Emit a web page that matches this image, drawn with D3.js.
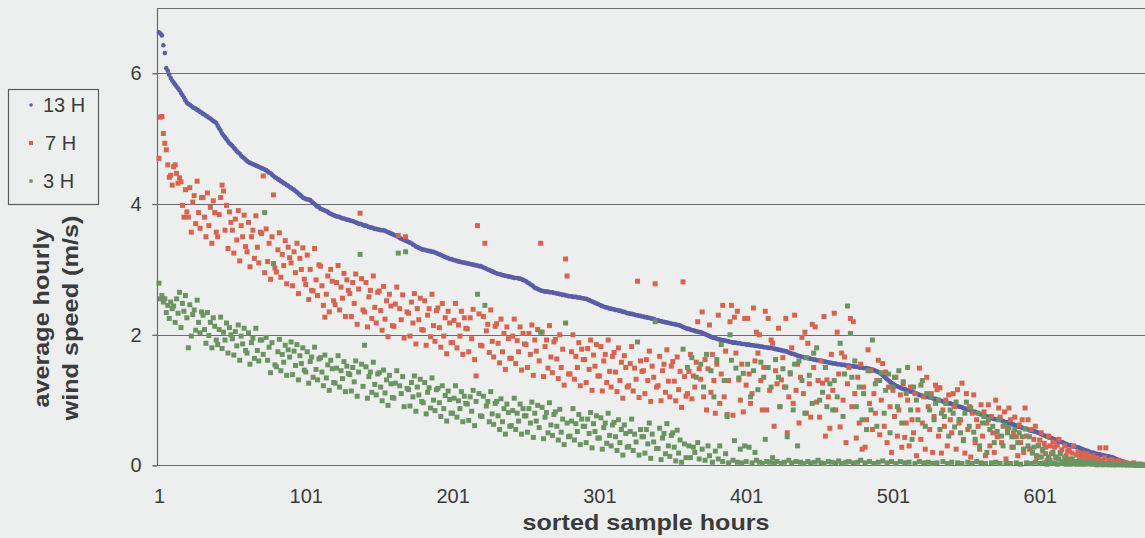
<!DOCTYPE html>
<html>
<head>
<meta charset="utf-8">
<script src="https://cdn.jsdelivr.net/npm/d3@7"></script>
<style>
  html, body { margin: 0; padding: 0; background: #edefee; }
  svg { display: block; }
  text { font-family: "Liberation Sans", Arial, sans-serif; fill: #3b3b3d; }
</style>
</head>
<body>
<svg id="chart" width="1145" height="538"></svg>
<script>
// Average hourly wind speed, hours sorted by the 13 H series
const seriesNames = ["13 H", "7 H", "3 H"];
const xTickValues = [1, 101, 201, 301, 401, 501, 601];
const yTickValues = [0, 2, 4, 6];

const speed13H = [
6.63,6.61,6.58,6.43,6.31,6.08,6.04,5.98,5.93,5.89,
5.86,5.83,5.80,5.77,5.74,5.70,5.67,5.63,5.59,5.55,
5.53,5.52,5.50,5.48,5.47,5.46,5.44,5.43,5.41,5.40,
5.38,5.37,5.35,5.34,5.32,5.31,5.29,5.27,5.26,5.24,
5.20,5.16,5.12,5.08,5.05,5.02,4.99,4.96,4.93,4.91,
4.89,4.86,4.84,4.81,4.79,4.77,4.74,4.72,4.70,4.68,
4.66,4.64,4.63,4.62,4.61,4.60,4.59,4.58,4.57,4.56,
4.55,4.54,4.53,4.52,4.50,4.48,4.47,4.45,4.43,4.41,
4.40,4.38,4.37,4.35,4.34,4.32,4.31,4.29,4.28,4.26,
4.25,4.23,4.22,4.20,4.18,4.16,4.14,4.12,4.10,4.09,
4.08,4.07,4.07,4.06,4.04,4.02,4.00,3.98,3.96,3.95,
3.93,3.92,3.91,3.90,3.89,3.88,3.86,3.85,3.84,3.83,
3.82,3.81,3.81,3.80,3.79,3.78,3.78,3.77,3.76,3.76,
3.75,3.74,3.74,3.73,3.72,3.71,3.70,3.70,3.69,3.68,
3.67,3.67,3.66,3.65,3.64,3.64,3.63,3.62,3.62,3.61,
3.61,3.60,3.60,3.60,3.59,3.58,3.57,3.56,3.55,3.54,
3.53,3.52,3.51,3.50,3.48,3.47,3.46,3.45,3.44,3.43,
3.42,3.41,3.40,3.38,3.37,3.35,3.34,3.33,3.32,3.31,
3.30,3.30,3.29,3.29,3.28,3.28,3.27,3.27,3.26,3.25,
3.24,3.23,3.22,3.21,3.20,3.19,3.18,3.17,3.16,3.16,
3.15,3.14,3.14,3.13,3.12,3.12,3.11,3.11,3.10,3.10,
3.09,3.09,3.08,3.08,3.07,3.07,3.06,3.06,3.05,3.05,
3.04,3.03,3.02,3.01,3.00,2.99,2.98,2.97,2.96,2.95,
2.94,2.93,2.93,2.92,2.91,2.91,2.90,2.90,2.89,2.89,
2.88,2.88,2.87,2.87,2.87,2.86,2.86,2.85,2.84,2.83,
2.82,2.80,2.79,2.77,2.76,2.74,2.72,2.71,2.70,2.69,
2.68,2.67,2.67,2.66,2.66,2.66,2.65,2.65,2.65,2.64,
2.64,2.63,2.63,2.62,2.62,2.61,2.61,2.60,2.60,2.59,
2.59,2.59,2.58,2.58,2.58,2.57,2.57,2.57,2.56,2.56,
2.55,2.55,2.54,2.53,2.52,2.51,2.50,2.49,2.48,2.47,
2.46,2.45,2.44,2.43,2.42,2.42,2.41,2.40,2.40,2.39,
2.39,2.38,2.38,2.37,2.37,2.36,2.35,2.35,2.34,2.33,
2.33,2.32,2.32,2.31,2.31,2.30,2.30,2.29,2.29,2.28,
2.28,2.27,2.27,2.26,2.26,2.25,2.25,2.24,2.23,2.22,
2.22,2.21,2.21,2.20,2.20,2.19,2.19,2.18,2.18,2.17,
2.17,2.16,2.16,2.15,2.15,2.14,2.13,2.12,2.11,2.10,
2.09,2.09,2.08,2.07,2.07,2.06,2.05,2.05,2.04,2.04,
2.03,2.02,2.01,2.00,1.99,1.98,1.97,1.96,1.95,1.95,
1.94,1.93,1.93,1.92,1.92,1.91,1.91,1.90,1.90,1.89,
1.89,1.88,1.88,1.88,1.87,1.87,1.87,1.86,1.86,1.86,
1.85,1.85,1.85,1.84,1.84,1.84,1.83,1.83,1.83,1.82,
1.82,1.82,1.81,1.81,1.81,1.80,1.80,1.80,1.79,1.79,
1.78,1.78,1.77,1.77,1.76,1.76,1.75,1.75,1.74,1.73,
1.72,1.71,1.71,1.70,1.69,1.68,1.68,1.67,1.66,1.66,
1.65,1.65,1.64,1.64,1.63,1.63,1.62,1.62,1.61,1.61,
1.61,1.60,1.60,1.59,1.59,1.58,1.58,1.57,1.57,1.56,
1.56,1.56,1.55,1.55,1.55,1.54,1.54,1.54,1.53,1.53,
1.53,1.52,1.52,1.52,1.51,1.51,1.51,1.50,1.50,1.50,
1.49,1.49,1.49,1.48,1.48,1.47,1.47,1.46,1.45,1.44,
1.43,1.42,1.40,1.38,1.36,1.34,1.32,1.30,1.28,1.26,
1.25,1.23,1.22,1.21,1.20,1.19,1.18,1.17,1.17,1.16,
1.15,1.14,1.13,1.13,1.12,1.11,1.10,1.09,1.08,1.07,
1.07,1.06,1.05,1.05,1.05,1.04,1.04,1.03,1.02,1.02,
1.01,1.00,0.99,0.99,0.98,0.97,0.96,0.96,0.95,0.95,
0.94,0.93,0.93,0.92,0.91,0.90,0.90,0.89,0.88,0.87,
0.86,0.86,0.85,0.84,0.83,0.82,0.82,0.81,0.80,0.79,
0.78,0.78,0.77,0.76,0.75,0.74,0.74,0.73,0.72,0.71,
0.71,0.70,0.70,0.70,0.69,0.68,0.67,0.66,0.66,0.65,
0.64,0.63,0.63,0.62,0.61,0.60,0.59,0.59,0.58,0.57,
0.56,0.56,0.55,0.54,0.53,0.53,0.52,0.52,0.51,0.50,
0.49,0.48,0.47,0.46,0.45,0.44,0.43,0.43,0.42,0.41,
0.40,0.39,0.38,0.37,0.36,0.36,0.35,0.34,0.33,0.32,
0.31,0.31,0.30,0.29,0.29,0.28,0.28,0.27,0.26,0.25,
0.24,0.23,0.23,0.22,0.21,0.20,0.20,0.19,0.18,0.18,
0.17,0.17,0.16,0.16,0.15,0.15,0.14,0.14,0.13,0.13,
0.12,0.11,0.10,0.09,0.08,0.07,0.06,0.06,0.05,0.04,
0.04,0.03,0.02,0.02,0.01,0.01,0.00,0.00,0.00,0.00,0.00,0.00
];

const speed7H = [
4.70,5.33,5.34,5.08,4.93,4.83,4.60,4.41,4.44,4.29,
4.57,4.60,4.47,4.32,4.40,4.34,3.98,3.80,4.22,3.88,
3.80,4.25,3.57,4.03,4.13,3.70,4.35,3.87,3.63,4.10,
4.10,3.80,3.50,4.17,3.67,3.95,3.40,4.05,3.87,3.57,
3.50,3.84,4.10,4.29,4.20,3.60,3.98,3.32,3.88,3.72,
3.60,3.25,3.77,3.45,3.90,3.13,3.67,3.50,3.83,3.35,
3.27,3.72,3.04,3.50,3.60,3.17,3.82,3.34,3.10,3.57,
3.55,4.43,2.95,3.62,3.12,3.40,2.85,3.50,4.14,3.02,
2.96,3.30,3.56,2.88,3.23,3.06,3.44,2.78,3.34,3.18,
3.10,2.75,3.27,2.95,3.40,2.63,3.17,3.00,3.33,2.85,
2.77,3.22,2.54,3.00,2.68,2.67,3.32,2.84,2.60,3.07,
3.05,2.75,2.45,2.27,2.62,2.90,2.35,3.00,2.82,2.52,
2.46,2.80,3.06,2.38,2.73,2.56,2.94,2.28,2.84,2.68,
2.63,2.28,2.80,2.48,2.93,2.16,2.70,3.86,2.86,2.38,
2.35,2.80,2.12,2.58,2.68,2.25,2.90,2.42,2.18,2.65,
2.67,2.37,2.07,2.74,2.24,2.52,1.97,2.62,2.44,2.14,
2.13,2.47,2.73,3.52,2.40,2.23,2.61,1.95,3.50,2.35,
2.33,1.98,2.50,2.18,2.63,1.86,2.40,2.23,2.56,2.08,
2.07,2.52,1.84,2.30,2.40,1.97,2.62,2.14,1.90,2.37,
2.41,2.11,1.81,2.48,1.98,2.26,1.71,2.36,2.18,1.88,
1.88,2.22,2.48,1.80,2.15,1.98,2.36,1.70,2.26,2.10,
2.09,1.74,2.26,1.94,2.39,1.62,1.37,3.67,2.32,1.84,
1.83,2.28,3.40,2.06,2.16,1.73,2.38,1.90,1.66,2.13,
2.17,1.87,1.57,2.24,1.74,2.02,1.47,2.12,1.94,1.64,
1.64,1.98,2.24,1.56,1.91,1.74,2.12,1.46,2.02,1.86,
1.85,1.50,2.02,1.70,2.15,1.38,1.92,1.75,2.08,1.60,
3.40,2.04,1.36,1.82,1.92,1.49,2.14,1.66,1.42,1.89,
1.93,1.63,1.33,2.00,1.50,1.78,1.23,3.16,2.90,1.40,
1.40,1.74,2.00,1.32,1.67,1.50,1.88,1.22,1.78,1.62,
1.62,1.27,1.79,1.47,1.92,1.15,1.69,1.52,1.85,1.37,
1.37,1.82,1.14,1.60,1.70,1.27,1.92,1.44,1.20,1.67,
1.73,1.43,1.13,1.80,1.30,1.58,1.03,1.68,1.50,1.20,
1.22,1.56,1.82,1.14,1.49,1.32,2.82,1.04,1.60,1.44,
1.45,1.10,1.62,1.30,1.75,0.98,1.52,1.35,2.78,1.20,
1.22,1.67,0.99,1.45,1.55,1.12,1.77,1.29,1.05,1.52,
1.59,1.29,0.99,1.66,1.16,1.44,0.89,2.81,1.36,1.06,
1.10,1.44,1.70,1.02,1.37,1.20,1.58,2.20,1.48,1.32,
2.35,1.05,1.62,0.85,1.48,2.15,1.12,1.70,1.30,0.80,
1.55,2.30,0.95,1.40,2.45,1.05,1.75,0.78,1.30,2.20,
2.45,0.77,2.27,1.72,2.36,1.31,1.00,1.55,0.82,2.25,
1.23,2.25,1.40,0.95,1.10,2.41,1.60,2.04,1.72,2.00,
1.30,0.85,1.50,2.36,0.85,2.25,1.15,1.92,1.87,0.60,
1.45,1.25,2.10,0.90,1.31,1.65,1.20,2.25,0.50,1.05,
1.40,1.80,0.95,2.30,1.15,1.55,0.65,1.35,1.96,1.10,
2.04,0.80,1.87,1.25,0.74,2.16,1.50,2.12,0.97,1.30,
0.74,1.60,1.26,2.28,0.45,1.31,1.05,0.57,1.70,1.15,
2.33,0.85,2.04,1.40,0.59,1.72,1.00,1.66,0.35,1.25,
1.50,2.25,0.90,2.20,1.10,0.42,1.35,0.65,1.55,0.25,
1.20,0.28,0.70,1.77,0.95,1.45,0.55,1.10,0.80,1.30,
1.61,0.47,1.00,1.56,0.60,1.43,0.35,1.20,0.90,0.20,
1.15,0.75,1.35,0.45,0.85,1.08,0.28,1.25,0.43,0.65,
1.00,0.30,1.20,0.70,0.50,1.10,0.15,0.85,1.49,0.40,
0.65,1.05,0.25,1.35,0.90,0.55,1.10,0.20,0.75,1.23,
1.16,0.45,1.19,0.19,0.85,0.60,1.00,0.30,1.08,0.70,
0.50,1.10,0.90,0.25,1.16,0.65,0.70,1.26,0.40,0.19,
1.10,0.55,0.90,0.13,0.80,1.08,0.35,0.70,0.60,0.25,
0.93,0.45,0.82,0.15,0.65,0.93,0.30,0.75,0.50,0.20,
1.00,0.44,0.88,0.74,0.35,0.60,0.82,0.10,0.55,0.88,
0.70,0.28,0.50,0.74,0.44,0.15,0.62,0.35,0.70,0.20,
0.88,0.45,0.70,0.25,0.55,0.19,0.40,0.60,0.12,0.31,
0.39,0.50,0.22,0.34,0.28,0.08,0.45,0.30,0.18,0.36,
0.28,0.12,0.31,0.40,0.20,0.24,0.05,0.30,0.15,0.22,
0.24,0.10,0.19,0.30,0.05,0.16,0.20,0.08,0.14,0.19,
0.06,0.13,0.18,0.10,0.13,0.04,0.15,0.08,0.12,0.03,
0.10,0.27,0.06,0.08,0.12,0.27,0.03,0.07,0.05,0.09,
0.04,0.06,0.02,0.05,0.08,0.03,0.04,0.02,0.05,0.03,
0.02,0.03,0.01,0.02,0.04,0.01,0.02,0.00,0.01,0.02,0.00,0.01
];

const speed3H = [
2.79,2.55,2.60,2.50,2.55,2.34,2.45,2.25,2.50,2.40,
2.44,2.19,2.55,2.33,2.65,2.11,2.48,2.36,2.60,2.26,
1.80,2.46,1.98,2.31,2.38,2.07,2.53,2.19,2.03,2.35,
2.30,2.08,1.87,2.34,1.99,2.19,1.80,2.26,2.13,1.92,
1.85,2.08,2.27,1.79,2.04,1.92,2.18,1.72,2.11,2.00,
1.94,1.69,2.05,1.83,2.15,1.61,1.98,1.86,2.10,1.76,
1.72,2.03,1.55,1.88,1.95,1.64,2.10,1.76,1.60,1.92,
1.92,1.70,3.87,1.96,1.61,1.81,1.42,1.88,3.09,1.54,
1.51,1.74,1.93,1.45,1.70,1.58,1.84,1.38,1.77,1.66,
1.89,1.39,1.75,1.53,1.85,1.31,1.68,1.56,1.80,1.46,
1.43,1.74,1.26,1.59,1.66,1.35,1.81,1.47,1.31,1.63,
1.65,1.43,1.22,1.69,1.34,1.54,1.15,1.61,1.48,1.27,
1.26,1.49,1.68,1.20,1.45,1.33,1.59,1.13,1.52,1.41,
1.39,1.14,1.50,1.28,1.60,1.06,1.43,3.23,1.55,1.21,
1.84,1.51,1.03,1.36,1.43,1.12,1.58,1.24,1.08,1.40,
1.42,1.20,0.99,1.46,1.11,1.31,0.92,1.38,1.25,1.04,
1.03,1.26,1.45,3.25,1.22,1.10,1.36,0.90,3.27,1.18,
1.16,0.91,1.27,1.05,1.37,0.83,1.20,1.08,1.32,0.98,
0.96,1.27,0.79,1.12,1.19,0.88,1.34,1.00,0.84,1.16,
1.18,0.96,0.75,1.22,0.87,1.07,0.68,1.14,1.01,0.80,
0.80,1.03,1.22,0.74,0.99,0.87,1.13,0.67,1.06,0.95,
0.94,0.69,1.05,0.83,1.15,0.61,0.98,2.62,1.10,0.76,
0.75,1.06,2.45,0.91,0.98,0.67,1.13,0.79,0.63,0.95,
0.98,0.76,0.55,1.02,0.67,0.87,0.48,0.94,0.81,0.60,
0.61,0.84,1.03,0.55,0.80,0.68,0.94,0.48,0.87,0.76,
0.76,0.51,0.87,0.65,0.97,0.43,0.80,0.68,0.92,0.58,
2.04,0.89,0.41,0.74,0.81,0.50,0.96,0.62,0.46,0.78,
0.82,0.60,0.39,0.86,0.51,0.71,0.32,2.18,0.65,0.44,
0.45,0.68,0.87,0.39,0.64,0.52,0.78,0.32,0.71,0.60,
0.60,0.35,0.71,0.49,0.81,0.27,0.64,0.52,0.76,0.42,
0.42,0.73,0.25,0.58,0.65,0.34,0.80,0.46,0.30,0.62,
0.66,0.44,0.23,0.70,0.35,0.55,0.16,0.62,0.49,0.28,
0.29,0.52,0.71,0.23,0.48,0.36,1.89,0.16,0.55,0.44,
0.44,0.19,0.55,0.33,0.65,0.11,0.48,0.36,2.20,0.26,
0.26,0.57,0.09,0.42,0.49,0.18,0.64,0.30,0.14,0.46,
0.50,0.28,0.07,0.54,0.19,0.39,0.05,1.78,0.33,0.12,
1.50,0.30,0.12,1.65,0.28,0.20,1.35,0.35,0.10,1.55,
0.25,1.20,0.08,1.70,0.30,0.15,1.45,0.05,1.05,0.22,
1.62,0.10,0.30,1.85,0.06,1.30,0.18,0.75,0.04,2.00,
1.61,0.08,0.38,1.49,0.05,1.34,0.25,0.04,1.41,0.30,
0.06,1.55,0.28,1.05,0.04,1.45,0.20,0.08,1.16,0.05,
1.58,0.03,1.35,0.40,0.06,1.50,0.05,1.20,0.12,0.04,
1.62,0.06,1.35,0.90,0.03,1.48,0.05,1.20,0.44,0.08,
1.42,0.04,0.85,1.55,0.06,0.30,1.60,0.05,1.30,0.03,
0.80,1.65,0.06,1.38,0.04,0.95,1.72,0.05,1.80,0.08,
1.00,0.04,1.12,0.03,1.50,0.90,0.06,1.25,0.05,0.85,
1.30,0.04,1.05,0.07,1.87,0.03,0.75,1.40,0.05,2.44,
0.06,2.02,1.35,0.04,1.60,0.90,0.05,1.20,0.08,0.70,
1.10,0.04,0.55,1.45,0.06,0.85,1.92,0.03,1.25,0.60,
0.05,1.30,1.42,0.07,0.80,1.15,0.04,1.40,0.50,0.06,
1.20,1.35,0.03,0.90,1.45,0.06,0.65,1.28,0.04,1.10,
1.50,0.05,0.85,0.40,1.20,0.03,1.00,0.70,0.06,1.23,
1.30,0.04,0.60,1.10,0.05,0.85,1.05,0.03,0.70,0.95,
0.04,1.00,0.55,0.80,0.06,0.75,0.95,0.03,0.45,0.85,
0.05,0.80,0.59,0.97,0.04,0.70,0.50,0.03,0.38,0.80,
0.97,0.05,0.60,0.88,0.03,0.51,0.40,0.06,0.80,0.30,
0.04,0.65,0.75,0.03,0.20,0.70,0.55,0.04,0.60,0.35,
0.05,0.52,0.70,0.03,0.45,0.30,0.62,0.04,0.50,0.58,
0.03,0.44,0.28,0.55,0.04,0.35,0.50,0.02,0.44,0.25,
0.56,0.04,0.30,0.44,0.03,0.20,0.28,0.05,0.15,0.30,
0.03,0.13,0.25,0.04,0.18,0.02,0.13,0.08,0.03,0.20,
0.04,0.13,0.02,0.10,0.18,0.03,0.05,0.12,0.02,0.08,
0.04,0.02,0.10,0.03,0.06,0.02,0.05,0.08,0.02,0.03,
0.05,0.02,0.04,0.03,0.06,0.02,0.03,0.04,0.02,0.01,
0.03,0.02,0.04,0.01,0.02,0.03,0.02,0.01,0.02,0.03,
0.01,0.02,0.01,0.03,0.02,0.01,0.02,0.01,0.02,0.01,
0.01,0.02,0.01,0.01,0.02,0.01,0.00,0.01,0.02,0.01,0.00,0.01
];

const seriesColors = ["#5a5ea8", "#d8644f", "#6c9463"];

const svg = d3.select("#chart");
const W = 1145, H = 538;
const plot = { left: 157.5, top: 8, bottom: 465.5 };

svg.append("rect").attr("width", W).attr("height", H).attr("fill", "#edefee");

const x = d3.scaleLinear().domain([0, 681]).range([plot.left, plot.left + 681 * 1.468]);
const y = d3.scaleLinear().domain([0, 7]).range([plot.bottom, plot.top]);

const gridColor = "#6f6a72";
const fontFamily = "'Liberation Sans', Arial, sans-serif";

// horizontal gridlines (with the short outside tick) and the top frame line
svg.append("g")
  .selectAll("line")
  .data(yTickValues.filter(v => v > 0))
  .join("line")
  .attr("x1", plot.left - 5).attr("x2", W)
  .attr("y1", d => Math.round(y(d)) + 0.5).attr("y2", d => Math.round(y(d)) + 0.5)
  .attr("stroke", gridColor).attr("stroke-width", 1.2);

svg.append("line")
  .attr("x1", plot.left).attr("x2", W)
  .attr("y1", plot.top + 0.5).attr("y2", plot.top + 0.5)
  .attr("stroke", gridColor).attr("stroke-width", 1.2);

// y axis
const yAxis = svg.append("g")
  .attr("transform", `translate(${plot.left},0)`)
  .call(d3.axisLeft(y).tickValues(yTickValues).tickFormat(d3.format("d"))
    .tickSize(5).tickPadding(11).tickSizeOuter(0));
yAxis.select(".domain").attr("stroke", gridColor).attr("stroke-width", 1.2)
  .attr("d", `M0,${plot.top}V${plot.bottom}`);
yAxis.selectAll(".tick line").attr("stroke", gridColor).attr("stroke-width", 1.2);
yAxis.selectAll(".tick text")
  .attr("font-size", 20).attr("fill", "#3b3b3d")
  .style("font-family", fontFamily);

// x axis
const xAxis = svg.append("g")
  .attr("transform", `translate(0,${plot.bottom})`)
  .call(d3.axisBottom(x).tickValues(xTickValues).tickFormat(d3.format("d"))
    .tickSize(0).tickPadding(23).tickSizeOuter(0));
xAxis.select(".domain").attr("stroke", gridColor).attr("stroke-width", 1.2)
  .attr("d", `M${plot.left - 5},0H${W}`);
xAxis.selectAll(".tick text")
  .attr("font-size", 20).attr("fill", "#3b3b3d")
  .style("font-family", fontFamily);

// data points: 13 H drawn first, then 7 H and 3 H on top
const points = svg.append("g");
const toPoints = arr => arr.map((v, i) => ({ hour: i + 1, v }));

points.append("g")
  .selectAll("circle")
  .data(toPoints(speed13H))
  .join("circle")
  .attr("cx", d => x(d.hour)).attr("cy", d => y(d.v))
  .attr("r", 2.3).attr("fill", seriesColors[0]);

[speed7H, speed3H].forEach((arr, k) => {
  points.append("g")
    .selectAll("rect")
    .data(toPoints(arr))
    .join("rect")
    .attr("x", d => x(d.hour) - 2.5).attr("y", d => y(d.v) - 2.5)
    .attr("width", 5).attr("height", 5)
    .attr("fill", seriesColors[k + 1]);
});

// axis titles
svg.append("text")
  .attr("x", 646).attr("y", 530)
  .attr("text-anchor", "middle")
  .attr("font-size", 22).attr("font-weight", "bold")
  .attr("textLength", 247).attr("lengthAdjust", "spacingAndGlyphs")
  .text("sorted sample hours");

const yTitle = svg.append("g").attr("transform", "translate(0,318) rotate(-90)");
yTitle.append("text")
  .attr("x", 0).attr("y", 49)
  .attr("text-anchor", "middle")
  .attr("font-size", 22).attr("font-weight", "bold")
  .attr("textLength", 179).attr("lengthAdjust", "spacingAndGlyphs")
  .text("average hourly");
yTitle.append("text")
  .attr("x", 0).attr("y", 78)
  .attr("text-anchor", "middle")
  .attr("font-size", 22).attr("font-weight", "bold")
  .attr("textLength", 205).attr("lengthAdjust", "spacingAndGlyphs")
  .text("wind speed (m/s)");

// legend
const legend = svg.append("g");
legend.append("rect")
  .attr("x", 8.5).attr("y", 89.5).attr("width", 90).attr("height", 115)
  .attr("fill", "none").attr("stroke", "#5f5a62").attr("stroke-width", 1.2);

const legendRows = [105, 143, 181];
seriesNames.forEach((name, i) => {
  const cy = legendRows[i];
  if (i === 0) {
    legend.append("circle").attr("cx", 31).attr("cy", cy).attr("r", 1.8).attr("fill", seriesColors[i]);
  } else {
    const s = i === 1 ? 4 : 3.4;
    legend.append("rect").attr("x", 31 - s / 2).attr("y", cy - s / 2)
      .attr("width", s).attr("height", s).attr("fill", seriesColors[i]);
  }
  legend.append("text")
    .attr("x", i === 1 ? 45 : 43).attr("y", cy + 7)
    .attr("font-size", 20)
    .text(name);
});
</script>
</body>
</html>
